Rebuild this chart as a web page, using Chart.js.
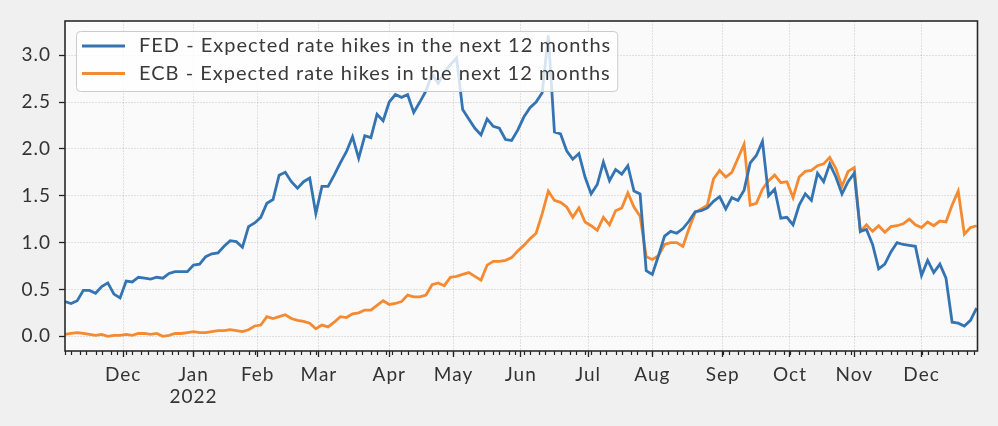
<!DOCTYPE html>
<html>
<head>
<meta charset="utf-8">
<script src="https://cdn.jsdelivr.net/npm/chart.js@4.4.0/dist/chart.umd.min.js"></script>
<style>
  html, body { margin: 0; padding: 0; background: #f0f0f0; }
  #wrap { width: 998px; height: 426px; }
</style>
</head>
<body>
<div id="wrap"><canvas id="rates" width="998" height="426"></canvas></div>
<script>
// x = business-day index, 0 = 1 Dec 2021; one value every 2 business days
const firstDay = -19;
const dayStep = 2;

const fed = [
  0.37, 0.35, 0.38, 0.49, 0.49, 0.46, 0.53, 0.57, 0.45, 0.41,
  0.59, 0.58, 0.63, 0.62, 0.61, 0.63, 0.62, 0.67, 0.69, 0.69,
  0.69, 0.76, 0.77, 0.85, 0.88, 0.89, 0.96, 1.02, 1.01, 0.95,
  1.17, 1.21, 1.27, 1.42, 1.46, 1.72, 1.75, 1.65, 1.58, 1.65,
  1.69, 1.31, 1.60, 1.60, 1.72, 1.85, 1.97, 2.13, 1.90, 2.14,
  2.12, 2.37, 2.30, 2.50, 2.58, 2.55, 2.58, 2.39, 2.50, 2.62,
  2.80, 2.70, 2.82, 2.90, 2.97, 2.42, 2.32, 2.22, 2.15, 2.32,
  2.24, 2.22, 2.10, 2.09, 2.20, 2.34, 2.44, 2.50, 2.60, 3.21,
  2.18, 2.16, 1.98, 1.89, 1.95, 1.70, 1.52, 1.62, 1.86, 1.66,
  1.78, 1.73, 1.82, 1.55, 1.52, 0.70, 0.66, 0.86, 1.07, 1.12,
  1.10, 1.15, 1.23, 1.33, 1.34, 1.37, 1.44, 1.49, 1.36, 1.48,
  1.45, 1.56, 1.85, 1.93, 2.08, 1.50, 1.57, 1.26, 1.27, 1.19,
  1.40, 1.52, 1.45, 1.74, 1.65, 1.84, 1.70, 1.52, 1.65, 1.74,
  1.12, 1.14, 0.98, 0.72, 0.77, 0.90, 1.00, 0.98, 0.97, 0.96,
  0.65, 0.81, 0.68, 0.77, 0.62, 0.15, 0.14, 0.11, 0.17, 0.30
];

const ecb = [
  0.02, 0.03, 0.04, 0.03, 0.02, 0.01, 0.02, 0.00, 0.01, 0.01,
  0.02, 0.01, 0.03, 0.03, 0.02, 0.03, 0.00, 0.01, 0.03, 0.03,
  0.04, 0.05, 0.04, 0.04, 0.05, 0.06, 0.06, 0.07, 0.06, 0.05,
  0.07, 0.11, 0.12, 0.21, 0.19, 0.21, 0.23, 0.19, 0.17, 0.16,
  0.14, 0.08, 0.12, 0.10, 0.15, 0.21, 0.20, 0.24, 0.25, 0.28,
  0.28, 0.33, 0.38, 0.34, 0.35, 0.37, 0.44, 0.42, 0.42, 0.44,
  0.55, 0.57, 0.54, 0.63, 0.64, 0.66, 0.68, 0.64, 0.60, 0.76,
  0.80, 0.80, 0.81, 0.84, 0.91, 0.97, 1.04, 1.10, 1.31, 1.55,
  1.45, 1.43, 1.38, 1.27, 1.37, 1.22, 1.18, 1.13, 1.27, 1.19,
  1.34, 1.37, 1.53, 1.38, 1.28, 0.85, 0.82, 0.86, 0.98, 1.00,
  1.00, 0.96, 1.15, 1.32, 1.36, 1.40, 1.68, 1.77, 1.70, 1.75,
  1.90, 2.05, 1.40, 1.42, 1.57, 1.66, 1.72, 1.64, 1.65, 1.48,
  1.70, 1.76, 1.77, 1.82, 1.84, 1.91, 1.79, 1.60, 1.76, 1.80,
  1.12, 1.19, 1.12, 1.18, 1.11, 1.17, 1.18, 1.20, 1.25, 1.19,
  1.16, 1.22, 1.18, 1.23, 1.22, 1.40, 1.55, 1.09, 1.16, 1.18
];

const seriesNames = [
  'FED - Expected rate hikes in the next 12 months',
  'ECB - Expected rate hikes in the next 12 months'
];
const seriesColors = ['#3474b2', '#f58a30'];

// first business day of each month
const monthStarts = [0, 23, 44, 64, 87, 108, 130, 152, 173, 196, 218, 239, 261];
const monthLabels = ['Dec', ['Jan', '2022'], 'Feb', 'Mar', 'Apr', 'May', 'Jun', 'Jul', 'Aug', 'Sep', 'Oct', 'Nov', 'Dec'];
const yTicks = [0, 0.5, 1, 1.5, 2, 2.5, 3];

const days = fed.map((_, i) => firstDay + i * dayStep);

Chart.defaults.font.family = 'Lato';

const frame = {
  id: 'frame',
  beforeDraw(chart) {
    const { ctx, chartArea: a } = chart;
    ctx.letterSpacing = '1px';
    ctx.save();
    ctx.fillStyle = '#fafafa';
    ctx.fillRect(a.left, a.top, a.right - a.left, a.bottom - a.top);
    ctx.restore();
  },
  afterDraw(chart) {
    const { ctx, chartArea: a, scales: { x } } = chart;
    ctx.save();
    // minor ticks, Mondays and Thursdays
    ctx.strokeStyle = '#222';
    ctx.lineWidth = 1.2;
    ctx.beginPath();
    for (let d = firstDay; d <= x.max; d++) {
      const wd = ((d % 5) + 5) % 5;
      if (wd !== 1 && wd !== 3) continue;
      const px = Math.round(x.getPixelForValue(d)) + 0.5;
      ctx.moveTo(px, a.bottom);
      ctx.lineTo(px, a.bottom + 4);
    }
    ctx.stroke();
    ctx.lineWidth = 1.6;
    ctx.strokeStyle = '#2a2a2a';
    ctx.strokeRect(a.left, a.top, a.right - a.left, a.bottom - a.top);
    ctx.restore();
  }
};

const boxLegend = {
  id: 'boxLegend',
  afterDatasetsDraw(chart) {
    const { ctx, chartArea: a } = chart;
    ctx.save();
    ctx.font = '20px Lato';
    ctx.letterSpacing = '1px';
    const textW = Math.max(...seriesNames.map(n => ctx.measureText(n).width));
    const x0 = a.left + 11, y0 = a.top + 10;
    const w = 63 + textW + 6, h = 60;
    ctx.beginPath();
    ctx.roundRect(x0 + 0.5, y0 + 0.5, w, h, 4);
    ctx.fillStyle = 'rgba(255,255,255,0.8)';
    ctx.fill();
    ctx.strokeStyle = '#cccccc';
    ctx.lineWidth = 1;
    ctx.stroke();
    seriesNames.forEach((name, i) => {
      const cy = y0 + 15 + i * 27.5;
      ctx.strokeStyle = seriesColors[i];
      ctx.lineWidth = 2.8;
      ctx.beginPath();
      ctx.moveTo(x0 + 6, cy);
      ctx.lineTo(x0 + 49, cy);
      ctx.stroke();
      ctx.fillStyle = '#3a3a3a';
      ctx.textBaseline = 'middle';
      ctx.fillText(name, x0 + 63, cy);
    });
    ctx.restore();
  }
};

new Chart('rates', {
  type: 'line',
  data: {
    datasets: [fed, ecb].map((vals, i) => ({
      label: seriesNames[i],
      data: vals.map((v, j) => ({ x: days[j], y: v })),
      borderColor: seriesColors[i],
      borderWidth: 2.8,
      pointRadius: 0,
      tension: 0
    }))
  },
  options: {
    responsive: false,
    animation: false,
    layout: { padding: { left: 0, right: 20.5, top: 21, bottom: 0 } },
    plugins: { legend: { display: false }, tooltip: { enabled: false } },
    scales: {
      x: {
        type: 'linear',
        min: -19,
        max: 279.3,
        afterBuildTicks: s => { s.ticks = monthStarts.map(v => ({ value: v })); },
        afterFit: s => { s.height = 75; },
        ticks: {
          autoSkip: false,
          maxRotation: 0,
          padding: 6,
          color: '#333',
          font: { size: 19 },
          callback: v => monthLabels[monthStarts.indexOf(v)]
        },
        grid: { color: 'rgba(0,0,0,0.1)', tickColor: '#222', tickLength: 6, tickWidth: 1.3 },
        border: { display: false, dash: [2, 1] }
      },
      y: {
        min: -0.157,
        max: 3.365,
        afterBuildTicks: s => { s.ticks = yTicks.map(v => ({ value: v })); },
        afterFit: s => { s.width = 65; },
        ticks: {
          padding: 8,
          color: '#333',
          font: { size: 19 },
          callback: v => v.toFixed(1)
        },
        grid: { color: 'rgba(0,0,0,0.1)', tickColor: '#222', tickLength: 6, tickWidth: 1.3 },
        border: { display: false, dash: [2, 1] }
      }
    }
  },
  plugins: [frame, boxLegend]
});
</script>
</body>
</html>
